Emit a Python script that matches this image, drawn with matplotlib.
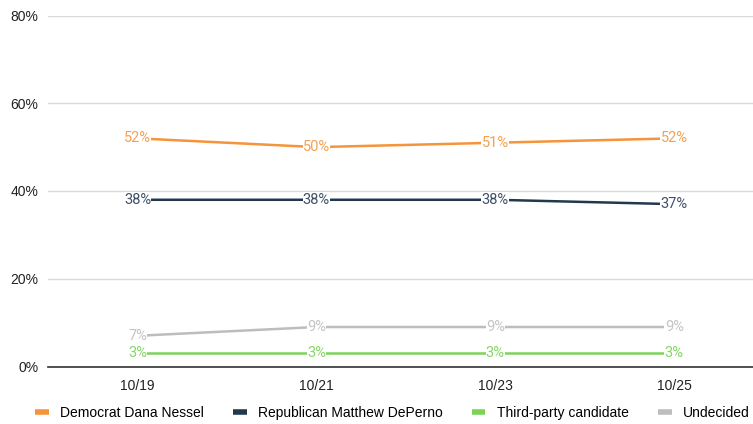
import matplotlib
matplotlib.use('Agg')
import matplotlib.pyplot as plt

dates = ["10/19", "10/21", "10/23", "10/25"]
nessel = [52, 50, 51, 52]
deperno = [38, 38, 38, 37]
third_party = [3, 3, 3, 3]
undecided = [7, 9, 9, 9]

# name, values, line colour, label colour
series = [
    ("Democrat Dana Nessel", nessel, "#F5943A", "#F6A04E"),
    ("Republican Matthew DePerno", deperno, "#22384F", "#3D5168"),
    ("Third-party candidate", third_party, "#7DD35A", "#86D665"),
    ("Undecided", undecided, "#BDBDBD", "#C4C4C4"),
]

plt.rcParams['font.family'] = ['Liberation Sans', 'DejaVu Sans']

W, H = 753, 424
fig = plt.figure(figsize=(W / 100, H / 100), dpi=100)
ax = fig.add_axes([48 / W, (H - 366.5) / H, 705 / W, 351 / H])

xs = list(range(len(dates)))
for name, vals, color, lcolor in series:
    ax.plot(xs, vals, color=color, lw=1.8, label=name, zorder=3, solid_capstyle='butt')
    for x, v in zip(xs, vals):
        ax.text(x, v, f"{v}%", color=lcolor, fontsize=10.5, ha='center', va='center',
                family=['Roboto', 'DejaVu Sans'], zorder=4,
                bbox=dict(facecolor='white', edgecolor='none', pad=0.2))

ax.set_xlim(-0.5, 3.44)
ax.set_ylim(0, 80)
ax.set_yticks([0, 20, 40, 60, 80])
ax.set_yticklabels([f"{t}%" for t in [0, 20, 40, 60, 80]])
ax.set_xticks(xs)
ax.set_xticklabels(dates)
ax.tick_params(axis='both', length=0, labelsize=10, colors='#222222')
ax.tick_params(axis='y', pad=7)
ax.tick_params(axis='x', pad=9)
ax.grid(axis='y', color='#D9D9D9', lw=1)
ax.set_axisbelow(True)
for s in ['left', 'right', 'top']:
    ax.spines[s].set_visible(False)
ax.spines['bottom'].set_color('#333333')
ax.spines['bottom'].set_linewidth(1.2)
ax.spines['bottom'].set_zorder(5)

handles, labels = ax.get_legend_handles_labels()
leg = fig.legend(handles, labels, loc='center', bbox_to_anchor=(392 / W, 1 - 413 / H),
                 ncol=4, frameon=False, fontsize=10, handlelength=1.0,
                 handletextpad=0.8, columnspacing=2.1)
for line in leg.get_lines():
    line.set_linewidth(4)

fig.savefig("out.png", dpi=100)
